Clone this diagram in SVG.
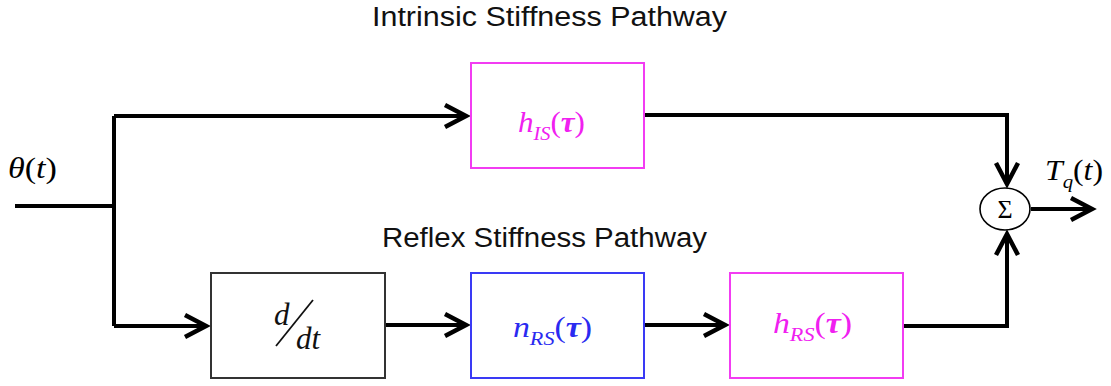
<svg xmlns="http://www.w3.org/2000/svg" width="1111" height="386" viewBox="0 0 1111 386">
  <style>
    .title { font-family: "Liberation Sans", Arial, sans-serif; font-size: 27px; fill: #111; }
    .math { font-family: "Liberation Serif", "Times New Roman", serif; font-style: italic; font-size: 29px; }
    .sub { font-size: 19px; }
    .up { font-style: normal; }
    .tau { font-weight: bold; }
    .frac { font-family: "Liberation Serif", "Times New Roman", serif; font-style: italic; font-size: 31px; fill: #111; }
    .wire { fill: none; stroke: #000; stroke-width: 4; stroke-linejoin: miter; }
    .box { fill: #fff; stroke-width: 2; }
  </style>
  <defs>
    <marker id="arrow" markerUnits="userSpaceOnUse" viewBox="-26 -14 30 28" refX="0" refY="0" markerWidth="30" markerHeight="28" orient="auto" overflow="visible">
      <path d="M-21,-11 L0,0 L-21,11" fill="none" stroke="#000" stroke-width="4.5" stroke-linejoin="miter"/>
    </marker>
  </defs>

  <rect width="1111" height="386" fill="#fff"/>

  <!-- pathway labels -->
  <text class="title" x="372" y="26" textLength="355" lengthAdjust="spacingAndGlyphs">Intrinsic Stiffness Pathway</text>
  <text class="title" x="382" y="247" textLength="325" lengthAdjust="spacingAndGlyphs">Reflex Stiffness Pathway</text>

  <!-- input / output signals -->
  <text class="math" x="8" y="178" textLength="49" lengthAdjust="spacingAndGlyphs">θ<tspan class="up">(</tspan>t<tspan class="up">)</tspan></text>
  <text class="math" x="1045" y="180" textLength="58" lengthAdjust="spacingAndGlyphs">T<tspan class="sub" dy="8">q</tspan><tspan class="up" dy="-8">(</tspan>t<tspan class="up">)</tspan></text>

  <!-- connectors -->
  <g id="connectors">
    <path class="wire" d="M15,206 H114"/>
    <path class="wire" d="M114,116 V326"/>
    <path class="wire" d="M114,116 H466" marker-end="url(#arrow)"/>
    <path class="wire" d="M114,326 H206" marker-end="url(#arrow)"/>
    <path class="wire" d="M385,325 H466" marker-end="url(#arrow)"/>
    <path class="wire" d="M644,325 H725" marker-end="url(#arrow)"/>
    <path class="wire" d="M644,115 H1007 V184" marker-end="url(#arrow)"/>
    <path class="wire" d="M903,326 H1007 V234" marker-end="url(#arrow)"/>
    <path class="wire" d="M1031,209 H1092" marker-end="url(#arrow)"/>
  </g>

  <!-- intrinsic stiffness block -->
  <g id="h_IS">
    <rect class="box" x="471" y="63" width="173" height="105" stroke="#f23cf2"/>
    <text class="math" x="518" y="132" textLength="67" lengthAdjust="spacingAndGlyphs" fill="#f020f0">h<tspan class="sub" dy="8">IS</tspan><tspan class="up" dy="-8">(</tspan><tspan class="tau">τ</tspan><tspan class="up">)</tspan></text>
  </g>

  <!-- differentiator -->
  <g id="ddt">
    <rect class="box" x="211" y="273" width="174" height="105" stroke="#333"/>
    <text class="frac" x="274" y="325">d</text>
    <line x1="276" y1="346" x2="313" y2="300" stroke="#111" stroke-width="1.8"/>
    <text class="frac" x="296" y="349">dt</text>
  </g>

  <!-- reflex neural block -->
  <g id="n_RS">
    <rect class="box" x="471" y="273" width="173" height="105" stroke="#3a3af5"/>
    <text class="math" x="513" y="337" textLength="79" lengthAdjust="spacingAndGlyphs" fill="#2a2af0">n<tspan class="sub" dy="8">RS</tspan><tspan class="up" dy="-8">(</tspan><tspan class="tau">τ</tspan><tspan class="up">)</tspan></text>
  </g>

  <!-- reflex stiffness block -->
  <g id="h_RS">
    <rect class="box" x="730" y="273" width="173" height="105" stroke="#f23cf2"/>
    <text class="math" x="773" y="333" textLength="79" lengthAdjust="spacingAndGlyphs" fill="#f020f0">h<tspan class="sub" dy="8">RS</tspan><tspan class="up" dy="-8">(</tspan><tspan class="tau">τ</tspan><tspan class="up">)</tspan></text>
  </g>

  <!-- summing junction -->
  <g id="sum">
    <ellipse cx="1005" cy="209" rx="25" ry="21" fill="#fff" stroke="#000" stroke-width="1.6"/>
    <text x="1005" y="218" text-anchor="middle" font-family="Liberation Serif, 'Times New Roman', serif" font-size="26" fill="#000">Σ</text>
  </g>
</svg>
